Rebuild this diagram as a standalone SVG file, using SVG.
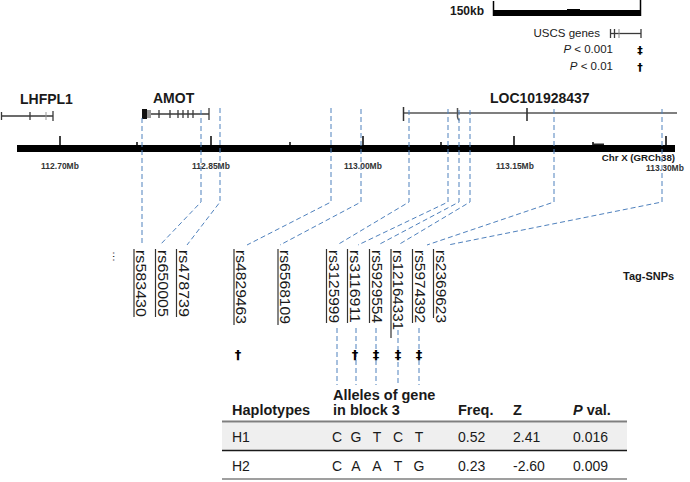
<svg xmlns="http://www.w3.org/2000/svg" width="690" height="482" viewBox="0 0 690 482">
<style>
text{font-family:"Liberation Sans",Arial,sans-serif;fill:#1a1a1a}
.gl{font-size:14px;font-weight:bold}
.ax{font-size:8.5px;font-weight:bold;fill:#333;text-anchor:middle}
.lg{font-size:11.5px;text-anchor:end}
.snp{font-size:14px}
.hd{font-size:14.5px;font-weight:bold}
.rw{font-size:14px}
.ac{text-anchor:middle}
.dash{fill:none;stroke:#4f81bd;stroke-width:1;stroke-dasharray:5 3}
.gene{stroke:#3a3a3a;stroke-width:1.3;fill:none}
.tick{stroke:#111;stroke-width:1.6}
.bar{stroke:#333;stroke-width:1.2}
.sym{font-family:"DejaVu Sans",sans-serif;font-size:13px;font-weight:bold;text-anchor:middle;fill:#000}
</style>

<g id="scalebar">
<text x="450" y="15" style="font-size:12px;font-weight:bold">150kb</text>
<rect x="493" y="10" width="148" height="6" fill="#000"/>
<rect x="567" y="9" width="13" height="1.5" fill="#000"/>
<line x1="493.5" y1="1" x2="493.5" y2="16" stroke="#000" stroke-width="1.5"/>
<line x1="640.5" y1="0" x2="640.5" y2="16" stroke="#000" stroke-width="1.5"/>
</g>

<g id="legend">
<text class="lg" x="600" y="37">USCS genes</text>
<line x1="610" y1="33.5" x2="641" y2="33.5" class="gene"/>
<line x1="610.5" y1="29" x2="610.5" y2="38" class="gene"/>
<line x1="614.5" y1="29" x2="614.5" y2="38" class="gene"/>
<line x1="619" y1="29" x2="619" y2="38" stroke="#888" stroke-width="1"/>
<line x1="641" y1="29" x2="641" y2="38" class="gene"/>
<text class="lg" x="613" y="53"><tspan font-style="italic">P</tspan> &lt; 0.001</text>
<text class="sym" x="640" y="54" style="font-size:11px">‡</text>
<text class="lg" x="613" y="70"><tspan font-style="italic">P</tspan> &lt; 0.01</text>
<text class="sym" x="640" y="71" style="font-size:11px">†</text>
</g>

<g id="gene-LHFPL1">
<text class="gl" x="20" y="104">LHFPL1</text>
<line x1="1" y1="116" x2="53" y2="116" class="gene" stroke-width="1"/>
<line x1="1.5" y1="112" x2="1.5" y2="120" class="gene" stroke-width="1"/>
<line x1="30" y1="112" x2="30" y2="120" class="gene" stroke-width="1"/>
<line x1="46" y1="112" x2="46" y2="120" stroke="#999" stroke-width="1"/>
<line x1="53" y1="111" x2="53" y2="121" class="gene" stroke-width="1"/>
</g>

<g id="gene-AMOT">
<text class="gl" x="153" y="103">AMOT</text>
<line x1="142" y1="114" x2="209" y2="114" class="gene"/>
<rect x="142" y="109" width="5" height="10" fill="#111"/>
<rect x="147" y="110" width="4" height="8" fill="#999"/>
<line x1="159" y1="110" x2="159" y2="118" class="gene"/>
<line x1="170" y1="110" x2="170" y2="118" class="gene"/>
<line x1="178" y1="110" x2="178" y2="118" class="gene"/>
<line x1="183" y1="110" x2="183" y2="118" class="gene"/>
<line x1="188" y1="110" x2="188" y2="118" class="gene"/>
<line x1="193" y1="110" x2="193" y2="118" class="gene"/>
<line x1="209" y1="108" x2="209" y2="120" class="gene"/>
</g>

<g id="gene-LOC101928437">
<text class="gl" x="490" y="103">LOC101928437</text>
<line x1="403" y1="113" x2="677" y2="113" stroke="#555" stroke-width="1.6"/>
<line x1="403.5" y1="107" x2="403.5" y2="121" stroke="#333" stroke-width="1.5"/>
<path d="M457.5 108 V117 Q458 120 459.5 120" stroke="#555" stroke-width="1.5" fill="none"/>
<line x1="527" y1="108" x2="527" y2="121" stroke="#333" stroke-width="1.6"/>
</g>

<g id="chromosome">
<rect x="17" y="145" width="658" height="7" fill="#000"/>
<line class="tick" x1="60" y1="136" x2="60" y2="145"/>
<line class="tick" x1="211" y1="136" x2="211" y2="145"/>
<line class="tick" x1="363" y1="136" x2="363" y2="145"/>
<line class="tick" x1="514" y1="136" x2="514" y2="145"/>
<line class="tick" x1="666" y1="136" x2="666" y2="145"/>
<line class="tick" x1="137" y1="142" x2="137" y2="145"/>
<line class="tick" x1="290" y1="142" x2="290" y2="145"/>
<line class="tick" x1="441" y1="142" x2="441" y2="145"/>
<line class="tick" x1="593" y1="142" x2="593" y2="145"/>
<rect x="593" y="143.5" width="11" height="1.5" fill="#222"/>
<text class="ax" x="60" y="169">112.70Mb</text>
<text class="ax" x="211" y="169">112.85Mb</text>
<text class="ax" x="363" y="169">113.00Mb</text>
<text class="ax" x="515" y="169">113.15Mb</text>
<text class="ax" x="665" y="171">113.30Mb</text>
<text x="675" y="161" style="font-size:9.7px;font-weight:bold;text-anchor:end">Chr X (GRCh38)</text>
</g>

<g id="connectors">
<path class="dash" d="M142 118 V245"/>
<path class="dash" d="M201 110 V202 L160 245"/>
<path class="dash" d="M220 108 V202 L187 245"/>
<path class="dash" d="M331 108 V202 L247 245"/>
<path class="dash" d="M361 109 V202 L280 245"/>
<path class="dash" d="M409 110 V202 L337 245"/>
<path class="dash" d="M448 109 V202 L358 245"/>
<path class="dash" d="M459 110 V202 L378 245"/>
<path class="dash" d="M470 110 V202 L398 245"/>
<path class="dash" d="M554 109 V202 L427 245"/>
<path class="dash" d="M662 109 V202 L448 245"/>
<path class="dash" d="M337 328 V385"/>
<path class="dash" d="M356 328 V385"/>
<path class="dash" d="M376 328 V385"/>
<path class="dash" d="M398 330 V385"/>
<path class="dash" d="M419 328 V385"/>
</g>

<g id="snps">
<text transform="translate(113,251) rotate(90)" style="font-size:11px">…</text>
<g id="snp-rs583430"><line class="bar" x1="134" y1="249" x2="134" y2="317"/><text class="snp" transform="translate(136,250) rotate(90)" textLength="67" lengthAdjust="spacingAndGlyphs">rs583430</text></g>
<g id="snp-rs650005"><line class="bar" x1="155.5" y1="249" x2="155.5" y2="317"/><text class="snp" transform="translate(157.5,250) rotate(90)" textLength="67" lengthAdjust="spacingAndGlyphs">rs650005</text></g>
<g id="snp-rs478739"><line class="bar" x1="176.5" y1="249" x2="176.5" y2="317"/><text class="snp" transform="translate(178.5,250) rotate(90)" textLength="67" lengthAdjust="spacingAndGlyphs">rs478739</text></g>
<g id="snp-rs4829463"><line class="bar" x1="234" y1="249" x2="234" y2="325"/><text class="snp" transform="translate(236,250) rotate(90)" textLength="74" lengthAdjust="spacingAndGlyphs">rs4829463</text></g>
<g id="snp-rs6568109"><line class="bar" x1="278" y1="249" x2="278" y2="325"/><text class="snp" transform="translate(280,250) rotate(90)" textLength="74" lengthAdjust="spacingAndGlyphs">rs6568109</text></g>
<g id="snp-rs3125999"><line class="bar" x1="326.5" y1="249" x2="326.5" y2="323"/><text class="snp" transform="translate(328.5,250) rotate(90)" textLength="73" lengthAdjust="spacingAndGlyphs">rs3125999</text></g>
<g id="snp-rs3116911"><line class="bar" x1="347.5" y1="249" x2="347.5" y2="323"/><text class="snp" transform="translate(349.5,250) rotate(90)" textLength="73" lengthAdjust="spacingAndGlyphs">rs3116911</text></g>
<g id="snp-rs5929554"><line class="bar" x1="369.5" y1="249" x2="369.5" y2="323"/><text class="snp" transform="translate(371.5,250) rotate(90)" textLength="73" lengthAdjust="spacingAndGlyphs">rs5929554</text></g>
<g id="snp-rs12164331"><line class="bar" x1="391" y1="249" x2="391" y2="338"/><text class="snp" transform="translate(393,250) rotate(90)" textLength="80" lengthAdjust="spacingAndGlyphs">rs12164331</text></g>
<g id="snp-rs5974392"><line class="bar" x1="412.5" y1="249" x2="412.5" y2="323"/><text class="snp" transform="translate(414.5,250) rotate(90)" textLength="73" lengthAdjust="spacingAndGlyphs">rs5974392</text></g>
<g id="snp-rs2369623"><line class="bar" x1="433.5" y1="249" x2="433.5" y2="318"/><text class="snp" transform="translate(435.5,250) rotate(90)" textLength="73" lengthAdjust="spacingAndGlyphs">rs2369623</text></g>
<text x="623" y="280" style="font-size:11px;font-weight:bold">Tag-SNPs</text>
<text class="sym" x="238" y="359">†</text>
<text class="sym" x="355" y="359">†</text>
<text class="sym" x="376" y="359">‡</text>
<text class="sym" x="398" y="359">‡</text>
<text class="sym" x="419" y="359">‡</text>
</g>

<g id="table">
<rect x="222" y="422.5" width="405" height="27.5" fill="#efefef"/>
<line x1="222" y1="421.5" x2="627" y2="421.5" stroke="#7f7f7f" stroke-width="2"/>
<line x1="222" y1="450.5" x2="627" y2="450.5" stroke="#1a1a1a" stroke-width="1.3"/>
<line x1="222" y1="479" x2="627" y2="479" stroke="#7f7f7f" stroke-width="1.5"/>
<text class="hd" x="232" y="415">Haplotypes</text>
<text class="hd" x="333" y="400">Alleles of gene</text>
<text class="hd" x="333" y="415">in block 3</text>
<text class="hd" x="458" y="415">Freq.</text>
<text class="hd" x="513" y="415">Z</text>
<text class="hd" x="573" y="415"><tspan font-style="italic">P</tspan> val.</text>
<text class="rw" x="232" y="442">H1</text>
<text class="rw ac" x="337" y="442">C</text>
<text class="rw ac" x="356" y="442">G</text>
<text class="rw ac" x="377" y="442">T</text>
<text class="rw ac" x="398" y="442">C</text>
<text class="rw ac" x="419" y="442">T</text>
<text class="rw" x="458" y="442">0.52</text>
<text class="rw" x="513" y="442">2.41</text>
<text class="rw" x="573" y="442">0.016</text>
<text class="rw" x="232" y="471">H2</text>
<text class="rw ac" x="337" y="471">C</text>
<text class="rw ac" x="356" y="471">A</text>
<text class="rw ac" x="377" y="471">A</text>
<text class="rw ac" x="398" y="471">T</text>
<text class="rw ac" x="419" y="471">G</text>
<text class="rw" x="458" y="471">0.23</text>
<text class="rw" x="513" y="471">-2.60</text>
<text class="rw" x="573" y="471">0.009</text>
</g>
</svg>
